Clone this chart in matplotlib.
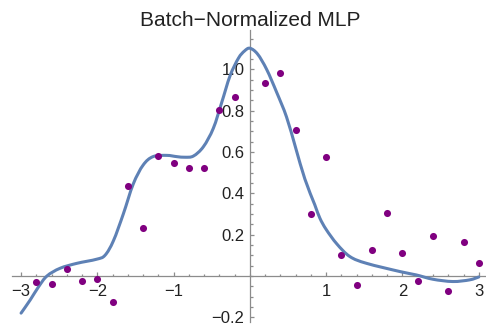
import matplotlib.pyplot as plt
from matplotlib.ticker import MultipleLocator
from matplotlib.path import Path
from matplotlib.patches import PathPatch

plt.rcParams['font.family'] = ['Liberation Sans', 'DejaVu Sans']

# sample points (purple dots)
pts_x = [-2.8, -2.6, -2.4, -2.2, -2.0, -1.8, -1.6, -1.4, -1.2, -1.0, -0.8, -0.6, -0.4, -0.2,
         0.2, 0.4, 0.6, 0.8, 1.0, 1.2, 1.4, 1.6, 1.8, 2.0, 2.2, 2.4, 2.6, 2.8, 3.0]
pts_y = [-0.03, -0.037, 0.034, -0.023, -0.016, -0.127, 0.436, 0.234, 0.583, 0.547, 0.522, 0.522, 0.804, 0.868,
         0.936, 0.985, 0.707, 0.299, 0.576, 0.103, -0.044, 0.124, 0.303, 0.11, -0.023, 0.194, -0.071, 0.166, 0.061]

# fitted curve
fit_x = [-3.0, -2.88, -2.77, -2.66, -2.49, -2.27, -2.01, -1.90, -1.79, -1.66, -1.53, -1.40, -1.27,
         -1.09, -0.96, -0.85, -0.74, -0.61, -0.48, -0.37, -0.26, -0.15, -0.07, 0.0, 0.1, 0.22, 0.35,
         0.48, 0.60, 0.72, 0.85, 0.917, 1.0, 1.14, 1.31, 1.53, 1.97, 2.18, 2.40, 2.66, 2.88, 3.0]
fit_y = [-0.18, -0.116, -0.052, 0.0, 0.037, 0.061, 0.081, 0.10, 0.17, 0.30, 0.445, 0.537, 0.578,
         0.584, 0.578, 0.575, 0.581, 0.626, 0.715, 0.84, 0.97, 1.055, 1.09, 1.103, 1.075, 1.0, 0.89,
         0.77, 0.62, 0.47, 0.345, 0.28, 0.225, 0.155, 0.094, 0.061, 0.021, 0.005, -0.016, -0.027, -0.019,
         -0.005]

x_ticks = [-3, -2, -1, 1, 2, 3]
x_labels = ['\u22123', '\u22122', '\u22121', '1', '2', '3']
y_ticks = [-0.2, 0.2, 0.4, 0.6, 0.8, 1.0]
y_labels = ['\u22120.2', '0.2', '0.4', '0.6', '0.8', '1.0']

fig = plt.figure(figsize=(4.86, 3.24), dpi=100)
ax = fig.add_axes([0.0247, 0.0062, 0.975, 0.901])

# smooth curve through the read points (Catmull-Rom as cubic Bezier segments)
n = len(fit_x)
verts = [(fit_x[0], fit_y[0])]
codes = [Path.MOVETO]
for i in range(n - 1):
    a = max(i - 1, 0)
    b = min(i + 2, n - 1)
    c1 = (fit_x[i] + (fit_x[i + 1] - fit_x[a]) / 6, fit_y[i] + (fit_y[i + 1] - fit_y[a]) / 6)
    c2 = (fit_x[i + 1] - (fit_x[b] - fit_x[i]) / 6, fit_y[i + 1] - (fit_y[b] - fit_y[i]) / 6)
    verts += [c1, c2, (fit_x[i + 1], fit_y[i + 1])]
    codes += [Path.CURVE4] * 3
ax.add_patch(PathPatch(Path(verts, codes), facecolor='none', edgecolor='#5E81B5', lw=2.2,
                       zorder=3, capstyle='round', joinstyle='round'))
ax.scatter(pts_x, pts_y, s=26, color='#800080', zorder=4, linewidths=0)

ax.set_xlim(-3.119, 3.093)
ax.set_ylim(-0.223, 1.191)

for s in ['top', 'right']:
    ax.spines[s].set_visible(False)
for s in ['left', 'bottom']:
    ax.spines[s].set_position(('data', 0))
    ax.spines[s].set_color('#8c8c8c')
    ax.spines[s].set_linewidth(0.9)

ax.set_xticks(x_ticks)
ax.set_xticklabels(x_labels)
ax.set_yticks(y_ticks)
ax.set_yticklabels(y_labels)
ax.xaxis.set_minor_locator(MultipleLocator(0.2))
ax.yaxis.set_minor_locator(MultipleLocator(0.05))
ax.tick_params(which='both', direction='in', color='#8c8c8c', width=0.9, labelcolor='#222222', labelsize=12)
ax.tick_params(which='major', length=3.2)
ax.tick_params(which='minor', length=1.8)
ax.tick_params(axis='x', pad=6)
ax.tick_params(axis='y', pad=4)

fig.text(250 / 486, 1 - 20 / 324, 'Batch\u2212Normalized MLP', ha='center', va='center',
         fontsize=15, color='#222222')

fig.savefig('out.png', dpi=100)
